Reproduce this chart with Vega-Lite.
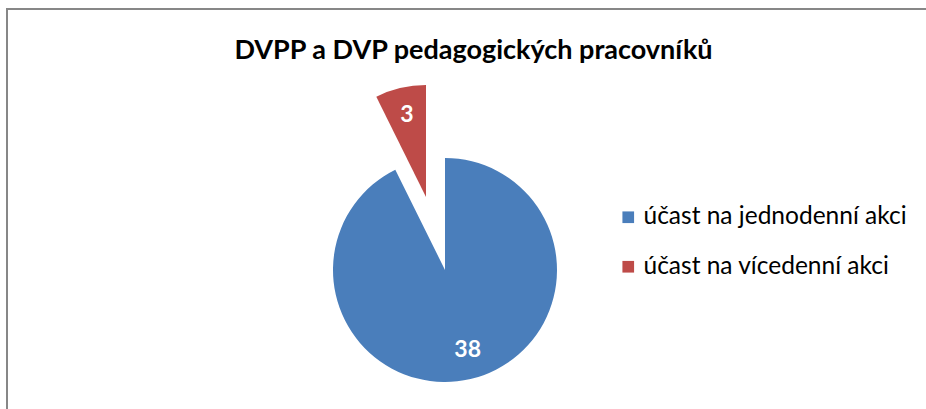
{
  "$schema": "https://vega.github.io/schema/vega-lite/v6.json",
  "width": 921,
  "height": 404,
  "autosize": {"type": "none"},
  "padding": {"left": 7, "top": 9, "right": 0, "bottom": 0},
  "background": "white",
  "view": {"stroke": "#878787", "strokeWidth": 2, "fill": "white"},
  "config": {"view": {"stroke": "#878787", "strokeWidth": 2}, "font": "Lato"},
  "title": {
    "text": "DVPP a DVP pedagogických pracovníků",
    "font": "Lato",
    "fontSize": 27,
    "fontWeight": "bold",
    "color": "#000000",
    "anchor": "middle",
    "frame": "group",
    "orient": "top",
    "offset": -49,
    "baseline": "alphabetic",
    "dx": 6,
    "dy": 28
  },
  "data": {
    "values": [
      {"category": "účast na jednodenní akci", "value": 38},
      {"category": "účast na vícedenní akci", "value": 3}
    ]
  },
  "encoding": {
    "theta": {"field": "value", "type": "quantitative", "stack": true},
    "order": {"field": "category", "type": "nominal", "sort": "ascending"},
    "color": {
      "field": "category",
      "type": "nominal",
      "sort": ["účast na jednodenní akci", "účast na vícedenní akci"],
      "scale": {
        "domain": ["účast na jednodenní akci", "účast na vícedenní akci"],
        "range": ["#4a7ebb", "#be4b48"]
      },
      "legend": {
        "title": null,
        "orient": "none",
        "legendX": 609,
        "legendY": 196,
        "symbolType": "square",
        "symbolSize": 136,
        "symbolStrokeWidth": 0,
        "labelFont": "Lato",
        "labelFontSize": 24.5,
        "labelColor": "#000000",
        "labelOffset": 3,
        "rowPadding": 24.5,
        "labelLimit": 400
      }
    }
  },
  "layer": [
    {
      "mark": {"type": "arc", "x": 438, "y": 261, "outerRadius": 112},
      "encoding": {
        "fillOpacity": {
          "condition": {"test": "datum.category === 'účast na vícedenní akci'", "value": 0},
          "value": 1
        }
      }
    },
    {
      "mark": {"type": "arc", "x": 438, "y": 261, "outerRadius": 112, "xOffset": -19, "yOffset": -73},
      "encoding": {
        "fillOpacity": {
          "condition": {"test": "datum.category === 'účast na vícedenní akci'", "value": 1},
          "value": 0
        }
      }
    },
    {
      "mark": {"type": "text", "x": 438, "y": 261, "radius": 82, "font": "Lato", "fontSize": 23, "fontWeight": "bold", "baseline": "middle", "dx": 4},
      "encoding": {
        "text": {"field": "value", "type": "quantitative"},
        "color": {"value": "white"},
        "opacity": {
          "condition": {"test": "datum.category === 'účast na vícedenní akci'", "value": 0},
          "value": 1
        }
      }
    },
    {
      "mark": {"type": "text", "x": 438, "y": 261, "radius": 84, "xOffset": -19, "yOffset": -73, "font": "Lato", "fontSize": 23, "fontWeight": "bold", "baseline": "middle"},
      "encoding": {
        "text": {"field": "value", "type": "quantitative"},
        "color": {"value": "white"},
        "opacity": {
          "condition": {"test": "datum.category === 'účast na vícedenní akci'", "value": 1},
          "value": 0
        }
      }
    }
  ]
}
